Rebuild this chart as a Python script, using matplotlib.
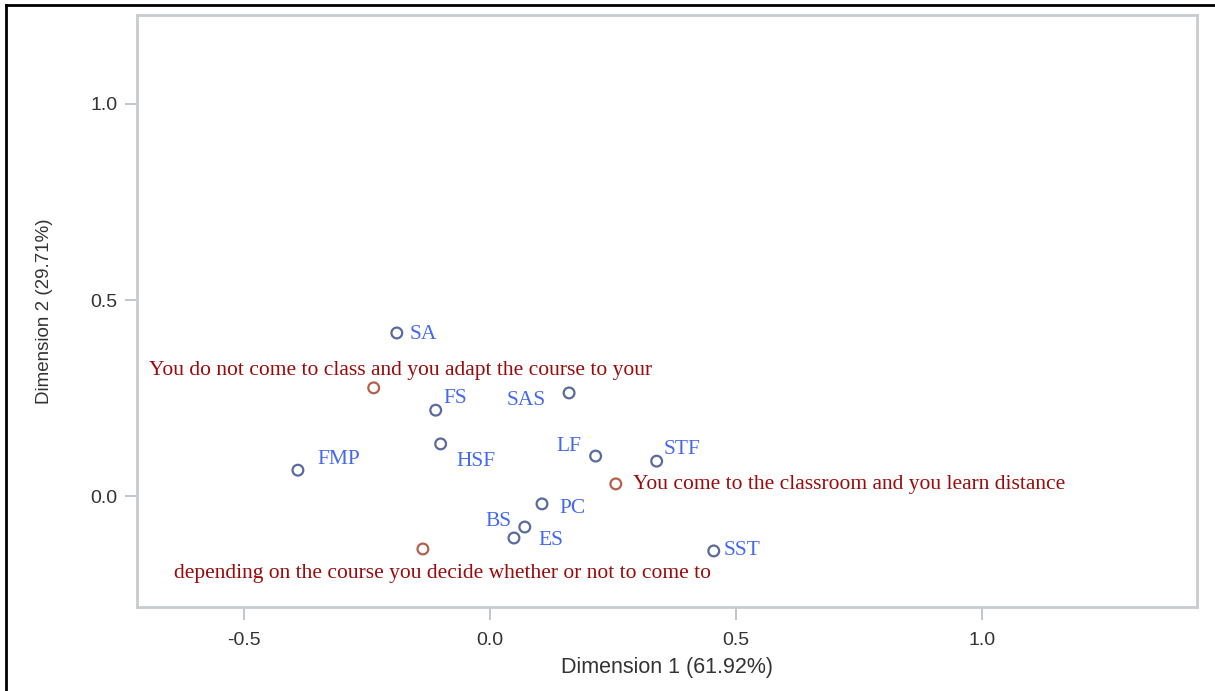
import matplotlib
matplotlib.use("Agg")
import matplotlib.pyplot as plt
from matplotlib.lines import Line2D

# Row categories (blue) and column categories (red) of the correspondence analysis
row_labels = ["SA", "FS", "SAS", "HSF", "FMP", "LF", "STF", "PC", "BS", "ES", "SST"]
row_dim1 = [-0.189, -0.110, 0.161, -0.100, -0.390, 0.215, 0.339, 0.106, 0.071, 0.049, 0.455]
row_dim2 = [0.416, 0.219, 0.263, 0.133, 0.066, 0.102, 0.089, -0.020, -0.079, -0.107, -0.140]

col_labels = [
    "You do not come to class and you adapt the course to your",
    "You come to the classroom and you learn distance",
    "depending on the course you decide whether or not to come to",
]
col_dim1 = [-0.236, 0.256, -0.136]
col_dim2 = [0.276, 0.031, -0.135]

x_ticks = [-0.5, 0.0, 0.5, 1.0]
y_ticks = [0.0, 0.5, 1.0]
x_title = "Dimension 1 (61.92%)"
y_title = "Dimension 2 (29.71%)"

# label placement (pixel offsets, alignment)
row_offsets = {
    "SA": (13, -2, "left", "center"),
    "FS": (8, 12, "left", "center"),
    "SAS": (-23, -8, "right", "center"),
    "HSF": (16, -18, "left", "center"),
    "FMP": (20, 11, "left", "center"),
    "LF": (-14, 10, "right", "center"),
    "STF": (7, 12, "left", "center"),
    "PC": (17, -5, "left", "center"),
    "BS": (-13, 6, "right", "center"),
    "ES": (24, -3, "left", "center"),
    "SST": (10, 0, "left", "center"),
}
col_offsets = [
    (27, 17, "center", "center"),
    (17, -1, "left", "center"),
    (20, -25, "center", "center"),
]

W, H = 1215, 691
fig = plt.figure(figsize=(W / 100, H / 100), dpi=100)
fig.patch.set_facecolor("white")
ax = fig.add_axes([137 / W, 1 - 607 / H, (1197 - 137) / W, (607 - 15) / H])

ax.set_xlim(-0.717, 1.437)
ax.set_ylim(-0.283, 1.227)

blue_edge = "#5b6a9c"
red_edge = "#b5604e"
blue_text = "#4468ee"
red_text = "#9a0a0a"
serif = ["Liberation Serif", "DejaVu Serif"]

ax.scatter(row_dim1, row_dim2, s=60, facecolors="none", edgecolors=blue_edge,
           linewidths=1.6, zorder=3)
ax.scatter(col_dim1, col_dim2, s=60, facecolors="none", edgecolors=red_edge,
           linewidths=1.6, zorder=3)

for lab, x, y in zip(row_labels, row_dim1, row_dim2):
    dx, dy, ha, va = row_offsets[lab]
    ax.annotate(lab, (x, y), xytext=(dx, dy), textcoords="offset pixels",
                ha=ha, va=va, color=blue_text, fontsize=15.5, family=serif)

for lab, x, y, (dx, dy, ha, va) in zip(col_labels, col_dim1, col_dim2, col_offsets):
    ax.annotate(lab, (x, y), xytext=(dx, dy), textcoords="offset pixels",
                ha=ha, va=va, color=red_text, fontsize=15.5, family=serif)

for sp in ax.spines.values():
    sp.set_color("#c9cccf")
    sp.set_linewidth(2.0)

ax.set_xticks(x_ticks)
ax.set_xticklabels([f"{v:.1f}" for v in x_ticks])
ax.set_yticks(y_ticks)
ax.set_yticklabels([f"{v:.1f}" for v in y_ticks])
ax.tick_params(axis="both", direction="out", length=9, width=1.2, color="#b8bcc0",
               labelcolor="#333333", labelsize=14)
ax.tick_params(axis="x", pad=9)
ax.tick_params(axis="y", pad=5)

sans = ["Liberation Sans", "DejaVu Sans"]
for t in ax.get_xticklabels() + ax.get_yticklabels():
    t.set_family(sans)

ax.set_xlabel(x_title, family=sans, fontsize=15.5, color="#333333", labelpad=6)
ax.set_ylabel(y_title, family=sans, fontsize=13.5, color="#333333", labelpad=27)

# outer frame lines along the left and top edges
fig.add_artist(Line2D([6 / W, 6 / W], [0, 1 - 5 / H], transform=fig.transFigure,
                      color="black", linewidth=2.0))
fig.add_artist(Line2D([6 / W, 1], [1 - 5 / H, 1 - 5 / H], transform=fig.transFigure,
                      color="black", linewidth=2.0))

fig.savefig("out.png", dpi=100, facecolor="white")
